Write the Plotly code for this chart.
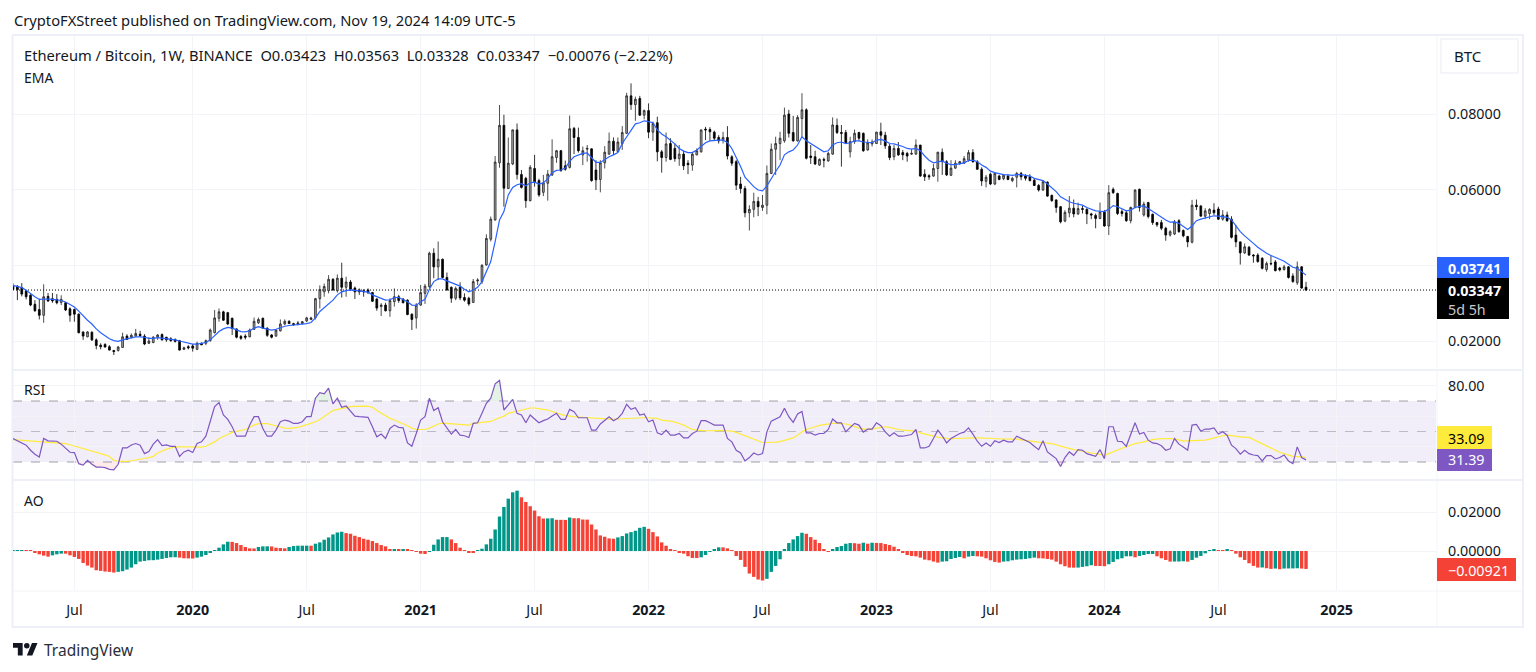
import numpy as np
import pandas as pd
import plotly.graph_objects as go

W, H = 1536, 672
FONT = "Noto Sans"
INK = "#131722"
GRID = "#f3f4f7"
FRAME = "#eef0f7"

# weekly ETH/BTC, all series in units of 0.0001 BTC
UNIT = 1e-4

eth_open = [
    345,345,341,332,321,297,283,268,318,312, 310,302,301,285,283,271,224,211,223,203,
    189,191,185,175,175,183,213,210,213,218, 213,194,196,210,217,210,206,204,201,178,
    185,187,178,194,194,201,222,260,277,275, 260,232,212,213,211,231,248,260,234,216,
    213,227,245,252,246,244,246,253,257,262, 312,330,333,363,333,366,342,356,340,335,
    333,335,328,311,291,295,280,304,317,311, 308,271,261,295,326,344,432,396,416,368,
    342,313,342,315,313,302,359,357,401,469, 520,671,770,603,668,758,640,630,571,656,
    624,593,617,639,685,703,663,659,762,738, 692,707,708,652,627,671,694,728,701,722,
    749,848,825,841,797,809,752,777,700,685, 722,709,682,694,670,665,692,700,760,759,
    752,738,731,738,687,674,615,603,539,548, 569,553,559,643,707,722,729,800,751,729,
    788,811,689,687,665,680,676,694,770,751, 751,700,727,751,749,705,721,722,753,744,
    715,687,709,698,696,694,694,718,641,637, 636,656,699,674,638,657,670,670,678,698,
    674,654,622,641,615,636,629,636,624,633, 643,636,634,625,611,599,620,585,573,555,
    517,539,551,536,550,548,536,532,524,542, 504,601,590,542,539,518,553,601,533,566,
    535,513,513,498,480,483,518,492,476,461, 559,557,530,537,546,549,522,533,522,480,
    462,433,448,427,427,419,389,405,409,393, 389,396,372,354,396,342.3,
]
eth_high = [
    352,347,353,336,324,308,312,350,327,327, 324,321,303,289,286,273,225,226,226,207,
    194,194,189,176,187,222,218,220,232,227, 218,210,213,218,220,211,210,207,203,185,
    189,192,198,196,204,233,282,286,280,277, 262,233,216,218,233,262,262,262,236,218,
    231,257,257,255,248,253,253,264,264,314, 347,352,374,366,376,407,370,361,344,339,
    337,339,330,313,300,301,313,339,322,313, 310,273,300,348,351,436,445,463,418,381,
    344,344,355,326,317,364,366,403,482,529, 689,824,798,738,759,775,652,634,665,692,
    629,639,652,733,705,705,677,796,766,764, 714,718,709,678,678,715,751,738,738,768,
    856,881,846,848,812,828,780,793,705,751, 736,722,718,703,678,700,709,759,766,765,
    756,744,753,768,691,678,634,610,559,592, 581,586,664,722,740,753,817,811,795,797,
    855,815,718,703,683,685,700,791,788,771, 758,740,759,753,751,733,733,753,777,753,
    721,718,726,705,700,707,733,718,654,641, 668,700,709,678,678,678,676,689,705,707,
    678,659,639,645,645,639,641,641,634,647, 647,641,641,630,615,625,622,587,574,557,
    546,583,574,566,557,551,539,537,566,546, 612,606,592,548,546,555,601,603,568,568,
    537,515,520,502,493,520,522,495,478,573, 574,559,551,551,564,555,546,542,530,507,
    463,458,451,430,432,421,410,427,414,396, 401,398,379,410,398,356.3,
]
eth_low = [
    334,308,318,310,292,277,257,248,303,301, 297,295,279,251,251,220,203,210,200,178,
    178,183,175,163,172,182,203,207,211,211, 189,192,194,203,201,198,198,196,175,176,
    178,172,176,189,189,198,220,251,253,242, 216,207,203,204,210,229,245,233,211,207,
    211,225,242,245,241,241,244,250,255,257, 286,317,326,333,328,315,317,332,311,322,
    317,324,303,280,266,278,264,291,301,300, 268,229,233,293,298,339,366,361,366,333,
    301,308,308,304,293,301,348,351,399,463, 518,658,555,602,665,627,603,552,569,608,
    581,583,571,636,671,648,650,656,694,698, 665,674,621,599,593,656,692,692,700,705,
    747,811,782,795,786,736,729,675,645,674, 678,674,663,652,641,650,691,698,731,729,
    731,722,722,680,663,599,590,527,492,527, 530,544,535,641,639,678,724,738,727,727,
    740,680,668,665,663,659,674,692,747,661, 721,685,721,729,700,703,714,721,718,708,
    678,678,689,678,674,692,692,634,623,626, 634,621,639,636,636,655,665,668,674,671,
    652,610,606,612,612,625,625,625,620,606, 625,624,622,610,595,597,581,568,539,511,
    514,527,527,533,537,509,522,498,522,502, 480,589,533,529,515,511,551,542,529,524,
    507,502,493,465,476,480,486,474,448,458, 546,529,522,522,533,520,518,515,471,448,
    402,430,425,407,407,389,383,400,384,384, 386,365,354,348,338,332.8,
]
eth_close = [
    336,336,324,317,295,280,268,317,306,306, 301,310,282,268,271,222,213,224,203,188,
    185,184,176,172,184,211,204,215,220,214, 192,200,210,216,203,203,201,199,176,182,
    182,181,194,190,201,229,261,277,255,245, 233,210,207,210,229,252,257,234,215,210,
    229,245,252,246,243,248,251,261,261,312, 336,344,363,335,366,342,356,337,330,330,
    330,328,305,287,295,280,307,317,307,301, 270,257,295,328,345,432,396,416,368,335,
    313,339,314,308,298,357,361,400,471,522, 673,770,604,670,758,640,606,571,659,621,
    586,618,641,687,703,650,654,761,738,703, 703,709,624,626,671,699,728,703,726,751,
    848,825,839,797,809,752,775,700,685,721, 680,682,694,663,666,694,703,758,758,753,
    736,729,738,689,670,612,603,539,548,569, 555,559,643,707,722,736,797,749,729,791,
    811,683,685,668,680,678,696,771,751,749, 724,727,749,736,703,724,726,752,744,716,
    685,709,692,692,689,696,718,636,634,634, 656,699,674,639,657,670,674,682,698,674,
    654,623,633,615,643,627,638,627,630,643, 634,630,624,611,599,621,583,571,553,515,
    540,551,536,550,548,536,533,524,541,504, 592,592,537,537,518,553,599,553,562,529,
    513,507,498,480,489,515,489,478,462,559, 555,530,544,548,539,522,533,518,474,462,
    433,449,427,425,410,392,405,404,386,388, 396,368,357,396,340,334.7,
]
ema = [
    347,345,341,334,325,317,310,311,311,310, 309,307,303,297,290,279,266,255,245,232,
    222,213,206,201,199,203,205,209,211,211, 210,207,207,209,208,206,205,203,200,197,
    195,192,192,193,196,203,213,225,232,236, 234,229,225,224,227,234,238,234,231,229,
    231,236,239,241,242,243,244,246,249,261, 278,288,298,308,322,330,333,335,334,333,
    331,329,322,317,313,308,309,315,315,310, 304,295,294,304,310,337,357,364,364,359,
    354,351,345,337,330,335,342,357,383,410, 463,520,542,586,606,613,616,610,618,620,
    615,618,629,645,651,652,657,675,687,692, 696,697,683,672,672,680,687,692,698,722,
    740,758,774,777,782,780,777,758,747,740, 731,721,709,702,698,698,705,714,724,729,
    731,731,731,725,709,687,661,633,621,608, 599,597,610,630,648,665,692,700,705,718,
    740,729,722,714,707,700,703,718,724,726, 722,724,729,729,726,724,724,731,733,729,
    722,721,718,714,709,707,709,703,689,678, 671,674,676,670,666,666,668,671,677,678,
    674,665,659,649,645,642,640,639,638,640, 640,638,636,630,626,624,615,606,595,581,
    574,568,564,562,559,553,548,544,543,542, 548,558,555,550,544,546,553,556,557,550,
    542,535,527,520,514,515,511,502,495,504, 518,522,525,529,531,530,529,527,520,504,
    489,478,469,458,448,439,432,426,420,416, 411,404,395,392,383,374.1,
]
rsi = [
    45.4,43.9,42.5,41,37.7,35.1,33.3,45.4,43.9,43.9, 43.6,41.7,38.8,36.4,36.2,28.9,28,31.1,28.5,26.7,
    26.7,26.3,25.2,24.9,28.5,39.2,39.2,41.2,42.1,41, 35.5,36.8,41.7,44.7,40.8,41.2,40.3,40.3,33.7,36.6,
    37.7,36.2,42.1,43.2,46.9,57.5,66.3,68.9,60.8,57.9, 53.1,46.9,46.9,46.9,54.2,59.7,59.7,52,46.9,46.9,
    50.9,56.4,57.5,56.8,55.3,55.3,56.4,59.7,59.7,71.8, 75.5,74.7,78.4,68.1,71.8,65.9,66.7,63,60.1,59.7,
    59.5,59.3,53.1,46.5,48.3,45.4,52,54.2,52.7,52.4, 42.5,40.3,48.7,57.5,59.7,71.8,63.7,65.6,56.4,52,
    48.3,51.3,47.6,47.2,46.1,55.3,55.7,61.9,68.5,71.8, 81.3,83.5,64.1,67.4,71.1,61.9,60.8,55.7,60.8,58.2,
    55.7,57.1,58.2,60.1,61.9,57.9,57.9,64.5,63,59, 59,59,50.9,50.9,54.9,57.5,59.7,57.1,58.6,61.9,
    67.8,64.5,65.6,60.8,61.5,56.4,57.5,49.1,48,50.9, 47.6,47.6,48.7,45.8,45.8,48.7,50.2,57.1,57.1,55.7,
    54.2,54.2,54.2,45.4,43.2,37.7,35.9,30.7,32.9,35.9, 34.6,35.5,49.8,56.8,58.2,59.7,65.2,59.7,56,61.5,
    63.2,49.1,49.1,47.6,48.7,48.7,51.3,58.2,55.7,55.7, 49.8,52.7,55.3,54.2,49.6,51.6,51.6,55.7,53.8,49.8,
    46.9,49.1,46.9,46.9,47.4,48,51.3,39.2,39.2,40.3, 45.4,50.9,47.2,42.5,45.4,47.2,48.7,49.6,52.4,48.3,
    43.6,40.3,42.5,40.3,43.9,42.8,44.3,43.2,43.2,46.9, 45.4,43.9,42.8,40.3,38.1,43.9,36.6,34.4,32.2,27.1,
    32.9,36.6,34.4,38.1,37.7,35.5,34.4,33.7,38.1,32.2, 53.1,53.1,43.6,43.4,40.3,47.6,55.7,48.3,49.4,44.3,
    42.5,42.1,40.6,37.7,38.6,45.4,41.7,39.9,37.7,54.2, 54.6,50.2,51.6,51.6,52.4,48.3,49.8,47.6,41,38.8,
    35.1,37.7,35.5,34.6,34.2,30.7,34.2,34.2,32,32.9, 34.6,30.7,28.9,39.9,32.9,31.39,
]
rsi_ma = [
    44.7,44.5,44.3,44.2,44,43.8,43.5,43,43,42.8, 42.8,42.5,42,41.3,40.5,39.7,38.8,38,37.4,36.8,
    35.5,34.7,33.6,31.1,30.5,30.4,30.4,30.8,31.2,31.8, 32.3,32.9,33.7,35.9,37.3,38.4,39.2,39.9,40,40,
    40,40,39.8,39.8,40.3,41.7,43.2,45.4,46.5,48, 49.4,50,50.7,51.3,52.7,54.2,55.1,55.3,55.1,54.4,
    53.5,52.7,52.2,52,52.2,52.7,53.5,54.4,55.3,56.4, 57.9,59.7,61.9,63.7,64.5,65.2,65.9,66.3,66.5,66.7,
    66.7,66.5,65.9,63.7,61.9,60.1,58.6,57.5,56.4,55.3, 53.8,52.2,51.3,51.3,51.3,52.2,53.5,54.9,55.5,55.3,
    55.1,54.9,54.4,54.2,54.2,55.3,55.7,56.2,56.4,56.6, 57.9,59,60.1,61.9,62.6,63.4,64.5,65,65.4,65.4,
    65.2,64.5,64.1,63,61.9,61.2,60.4,59.9,59.7,59.5, 59.3,58.8,58.6,58.4,58.2,58.2,57.9,57.9,58.2,58.4,
    58.6,58.6,58.8,58.8,59,59,59,58.6,57.5,57.3, 56.8,56.2,55.3,54.2,52.7,51.3,50.9,50.5,50.5,50.5,
    50.7,50.7,50.7,50.5,50.2,49.4,48.3,47.2,46.1,44.7, 43.6,42.8,42.8,42.8,43,43.4,44.1,44.7,45.8,47.6,
    49.8,51.3,52.4,53.1,54,54.6,55.1,55.3,55.3,55.3, 54.9,54.2,53.1,52.2,51.6,51.6,51.6,52.2,52.9,53.1,
    52.7,51.8,51.3,50.9,50.7,50.5,50.2,49.1,48.3,47.4, 46.7,46.3,45.8,45.4,45.2,45.4,45.6,45.6,45.6,45.8,
    45.8,45.8,45.6,45.6,45.4,45.2,45.2,45,45,45, 44.5,44.3,43.9,43.4,43,42.8,42.5,42.1,41.2,40.3,
    39.5,38.8,38.1,37.7,37,36.4,35.9,35.5,34.8,34.4, 35.5,36.8,38.1,39,39.9,41,42.1,42.5,43.4,44.1,
    44.7,45.2,45.4,45.4,45.4,45,44.3,43.9,43.9,43.9, 44.1,44.1,44.3,45,45.8,46.5,47.2,47.6,47.2,46.7,
    46.3,46.1,46.1,44.7,43.2,41.7,40.3,39,37.7,36.4, 35.5,34.4,33.7,33.5,33.3,33.09,
]
ao = [
    5.1,5.1,5.1,3.4,1.7,-6.8,-17,-23.8,-28.9,-22.1, -17,-13.6,-13.8,-22.1,-30.6,-40.8,-61.2,-74.8,-85,-98.6,
    -102,-105.4,-107.1,-110.5,-107.1,-103.7,-95.2,-85,-68,-54.4, -51,-47.6,-47,-44.2,-40.8,-35.7,-32.3,-32,-34,-37.4,
    -38,-38.5,-34,-28.9,-20.4,-8.5,3.4,17,34,47.6, 47,40.8,30.6,20.4,13.6,13,20.4,23.8,24,23.5,
    17,15.3,13.6,20.4,25.5,27.2,27.3,27.4,27.2,37.4, 44.2,57.8,69.7,85,95.2,98.6,91.8,88.4,78.2,71.4,
    62.9,57.8,51,40.8,30.6,23.8,10.2,10.3,10.1,10.2, 9.8,3.4,-5.1,-13.6,-15.3,-3,32.3,59.5,71.4,71.5,
    59.5,40.8,17,3.4,-6.8,-10.2,1.7,11.9,34,62.9, 110.5,176.8,226.1,268.6,300.9,309.4,275.4,251.6,229.5,207.4,
    178.5,166.6,167,168,160,159.8,159.5,171.7,168.3,168, 161.5,161,136,110.5,79.9,73.1,64.6,63,69.7,76.5,
    90.1,96.9,103.7,119,124.1,113.9,96.9,74.8,44.2,27.2, 10.2,1.7,-8.5,-13.6,-27,-35.7,-35.8,-32.3,-20.4,-5.1,
    8.5,18.7,18.6,13.6,3.4,-25.5,-45.9,-81.6,-115.6,-132.6, -146.2,-151.3,-142.8,-107.1,-76.5,-42.5,8.5,40.8,59.5,76.5,
    93.5,88.4,71.4,57.8,40.8,10.2,-0.5,8.5,20.4,25.5, 37.4,40.8,40,37.4,42.5,37.4,42.5,41.5,40.8,35.7,
    30.6,22.1,8.5,-6.8,-20.4,-25.5,-27.2,-34,-44.2,-47.6, -54.4,-59.5,-54.4,-52.7,-40.8,-35.7,-30.6,-37.4,-28.9,-25.5,
    -27.2,-28.9,-37.4,-47.6,-56.1,-59.5,-54.4,-52.7,-47.6,-44.2, -42.5,-40.8,-37.4,-34,-37.4,-38,-40.8,-44.2,-54.4,-68,
    -78.2,-85,-85.5,-85,-81.6,-78.2,-73,-76.5,-77,-78, -68,-56.1,-42.5,-37.4,-27.2,-27,-32.3,-25.5,-20.4,-15.3,
    -15.2,-27.2,-37.4,-45.9,-54.4,-54,-54,-52.7,-54.4,-45.9, -34,-25.5,-11.9,5.1,10.2,5.1,3.4,6.8,1.7,-13.6,
    -32.3,-45.9,-62.9,-76.5,-85,-84.5,-88.4,-91.8,-90,-93.5, -90,-89.5,-89.3,-88.4,-90,-92.1,
]
assert len({len(s) for s in (eth_open, eth_high, eth_low, eth_close, ema, rsi, rsi_ma, ao)}) == 1

weeks = pd.date_range("2019-03-25", periods=len(eth_close), freq="7D")

time_ticks = ["2019-07-01", "2020-01-06", "2020-07-06", "2021-01-04", "2021-07-05", "2022-01-03",
              "2022-07-04", "2023-01-02", "2023-07-03", "2024-01-01", "2024-07-01", "2025-01-06"]
time_labels = ["Jul", "<b>2020</b>", "Jul", "<b>2021</b>", "Jul", "<b>2022</b>",
               "Jul", "<b>2023</b>", "Jul", "<b>2024</b>", "Jul", "<b>2025</b>"]
price_ticks = [0.02, 0.04, 0.06, 0.08]
price_labels = ["0.02000", "", "0.06000", "0.08000"]
rsi_ticks = [40, 60, 80]
rsi_labels = ["", "", "80.00"]
ao_ticks = [0.0, 0.02]
ao_labels = ["0.00000", "0.02000"]

ao_values = np.array(ao) * UNIT
ao_colors = ["#009688" if i == 0 or ao[i] >= ao[i - 1] else "#f44336" for i in range(len(ao))]
rsi_arr = np.array(rsi)


# pixel helpers for the chrome around the panes
def px(x):
    return x / W


def py(y):
    return 1 - y / H


def box(x0, y0, x1, y1, color):
    return dict(type="rect", xref="paper", yref="paper", x0=px(x0), x1=px(x1), y0=py(y0), y1=py(y1),
                fillcolor=color, line_width=0, layer="above")


def hline(y0, x0, x1, color, width=2):
    return dict(type="line", xref="paper", yref="paper", x0=px(x0), x1=px(x1), y0=py(y0), y1=py(y0),
                line=dict(color=color, width=width), layer="below")


def vline(x0, y0, y1, color, width=2):
    return dict(type="line", xref="paper", yref="paper", x0=px(x0), x1=px(x0), y0=py(y0), y1=py(y1),
                line=dict(color=color, width=width), layer="below")


def label(x, y, text, size=14.7, color=INK, anchor="left"):
    return dict(xref="paper", yref="paper", x=px(x), y=py(y), text=text, showarrow=False, xanchor=anchor,
                yanchor="middle", font=dict(family=FONT, size=size, color=color), borderpad=0)


def logo_path(points):
    # TradingView mark, given in its own 36 wide grid
    out = []
    for cmd, a, b in points:
        out.append("{}{:.5f},{:.5f}".format(cmd, px(13 + 0.69 * a), py(643 + 0.69 * (b - 4))))
    return " ".join(out) + " Z"


def price_level(level, yref, color, width=1, dash="solid"):
    return dict(type="line", xref="paper", yref=yref, x0=px(13), x1=px(1436), y0=level, y1=level,
                line=dict(color=color, width=width, dash=dash), layer="below")


fig = go.Figure()

fig.add_trace(go.Candlestick(
    x=weeks, open=np.array(eth_open) * UNIT, high=np.array(eth_high) * UNIT,
    low=np.array(eth_low) * UNIT, close=np.array(eth_close) * UNIT,
    increasing=dict(line=dict(color="#222222", width=0.8), fillcolor="#a6a6a6"),
    decreasing=dict(line=dict(color="#000000", width=0.8), fillcolor="#000000"),
    whiskerwidth=0, hoverinfo="skip", showlegend=False, yaxis="y"))
fig.add_trace(go.Scatter(x=weeks, y=np.array(ema) * UNIT, mode="lines",
                         line=dict(color="#2962ff", width=1.2), yaxis="y", showlegend=False))

# overbought / oversold tint between the RSI line and the bands
fig.add_trace(go.Scatter(x=weeks, y=[70] * len(weeks), mode="lines", line=dict(width=0), yaxis="y2", showlegend=False))
fig.add_trace(go.Scatter(x=weeks, y=np.maximum(rsi_arr, 70), mode="lines", line=dict(width=0), fill="tonexty",
                         fillcolor="rgba(76,175,80,0.15)", yaxis="y2", showlegend=False))
fig.add_trace(go.Scatter(x=weeks, y=[30] * len(weeks), mode="lines", line=dict(width=0), yaxis="y2", showlegend=False))
fig.add_trace(go.Scatter(x=weeks, y=np.minimum(rsi_arr, 30), mode="lines", line=dict(width=0), fill="tonexty",
                         fillcolor="rgba(242,54,69,0.1)", yaxis="y2", showlegend=False))
fig.add_trace(go.Scatter(x=weeks, y=rsi_ma, mode="lines", line=dict(color="#ffeb3b", width=1.2),
                         yaxis="y2", showlegend=False))
fig.add_trace(go.Scatter(x=weeks, y=rsi, mode="lines", line=dict(color="#7e57c2", width=1.2),
                         yaxis="y2", showlegend=False))

fig.add_trace(go.Bar(x=weeks, y=ao_values, marker=dict(color=ao_colors, line_width=0),
                     yaxis="y3", showlegend=False))

shapes = [
    # RSI band and its levels
    dict(type="rect", xref="paper", yref="y2", x0=px(13), x1=px(1436), y0=30, y1=70,
         fillcolor="rgba(126,87,194,0.1)", line_width=0, layer="below"),
    price_level(70, "y2", "rgba(120,123,134,0.7)", dash="dash"),
    price_level(50, "y2", "rgba(120,123,134,0.45)", dash="dash"),
    price_level(30, "y2", "rgba(120,123,134,0.7)", dash="dash"),
    price_level(0.03347, "y", "#000000", dash="1px,2px"),
    # pane frame
    hline(35, 12, 1524, FRAME), hline(370, 12, 1524, FRAME), hline(480, 12, 1524, FRAME),
    hline(627, 12, 1524, FRAME), hline(591, 12, 1524, GRID, 1),
    vline(12.5, 35, 627, FRAME), vline(1523, 35, 627, FRAME), vline(1437, 36, 627, GRID, 1),
    # last-value tags
    box(1437, 257, 1509, 278, "#2962ff"), box(1437, 278, 1509, 319, "#000000"),
    box(1437, 426, 1492, 449, "#ffeb3b"), box(1437, 449, 1492, 471, "#7e57c2"),
    box(1437, 558, 1516, 581, "#f44336"),
    # scale button
    dict(type="rect", xref="paper", yref="paper", x0=px(1441), x1=px(1518), y0=py(39), y1=py(73),
         line=dict(color="#e9ebf2", width=1), fillcolor="#ffffff", layer="below"),
    # TradingView mark
    dict(type="path", xref="paper", yref="paper", line_width=0, fillcolor=INK, layer="above",
         path=logo_path([("M", 14, 22), ("L", 7, 22), ("L", 7, 11), ("L", 0, 11), ("L", 0, 4), ("L", 14, 4), ("L", 14, 22)])),
    dict(type="circle", xref="paper", yref="paper", line_width=0, fillcolor=INK, layer="above",
         x0=px(13 + 0.69 * 16), x1=px(13 + 0.69 * 24), y0=py(643), y1=py(643 + 0.69 * 8)),
    dict(type="path", xref="paper", yref="paper", line_width=0, fillcolor=INK, layer="above",
         path=logo_path([("M", 28, 22), ("L", 20, 22), ("L", 27.5, 4), ("L", 35.5, 4)])),
]

annotations = [
    label(13, 20, "CryptoFXStreet published on TradingView.com, Nov 19, 2024 14:09 UTC-5"),
    label(23, 55, "Ethereum / Bitcoin, 1W, BINANCE&nbsp;&nbsp;O0.03423&nbsp;&nbsp;H0.03563&nbsp;&nbsp;L0.03328&nbsp;&nbsp;"
                  "C0.03347&nbsp;&nbsp;−0.00076 (−2.22%)"),
    label(23, 77, "EMA", 14),
    label(23, 389, "RSI", 14),
    label(23, 500, "AO", 14),
    label(1453, 56, "BTC", 15),
    label(1447, 268, "<b>0.03741</b>", 14.3, "#ffffff"),
    label(1447, 290, "<b>0.03347</b>", 14.3, "#ffffff"),
    label(1447, 309, "5d 5h", 14.3, "#c8c8c8"),
    label(1447, 438, "33.09", 14.3, "#000000"),
    label(1447, 459, "31.39", 14.3, "#ffffff"),
    label(1447, 570, "−0.00921", 14.3, "#ffffff"),
    label(43, 650, "TradingView", 15.5, "#2a2e39"),
]

y_common = dict(side="right", anchor="x", showline=False, zeroline=False, ticks="", gridcolor=GRID,
                gridwidth=1, tickfont=dict(family=FONT, size=14.3, color=INK), ticklabelstandoff=11)

fig.update_layout(
    width=W, height=H, autosize=False,
    margin=dict(l=0, r=0, t=0, b=0),
    paper_bgcolor="#ffffff", plot_bgcolor="#ffffff",
    hovermode=False, showlegend=False,
    bargap=0.22, boxgap=0.42, shapes=shapes, annotations=annotations,
    font=dict(family=FONT, color=INK),
    xaxis=dict(domain=[px(13), px(1436)], range=["2019-03-25", "2025-06-13 14:00"], type="date",
               anchor="free", position=py(590), rangeslider=dict(visible=False),
               tickmode="array", tickvals=time_ticks, ticktext=time_labels, ticks="",
               showgrid=True, gridcolor=GRID, gridwidth=1, showline=False, zeroline=False,
               tickfont=dict(family=FONT, size=14.3, color=INK), ticklabelstandoff=10),
    yaxis=dict(domain=[py(369), py(36)], range=[0.0126, 0.10062], tickmode="array",
               tickvals=price_ticks, ticktext=price_labels, **y_common),
    yaxis2=dict(domain=[py(479), py(371)], range=[18.85, 89.67], tickmode="array",
                tickvals=rsi_ticks, ticktext=rsi_labels, **y_common),
    yaxis3=dict(domain=[py(590), py(481)], range=[-0.02, 0.0359], tickmode="array",
                tickvals=ao_ticks, ticktext=ao_labels, **y_common),
)

fig.write_html("out.html", config=dict(displayModeBar=False), post_script="document.body.style.margin='0';")
